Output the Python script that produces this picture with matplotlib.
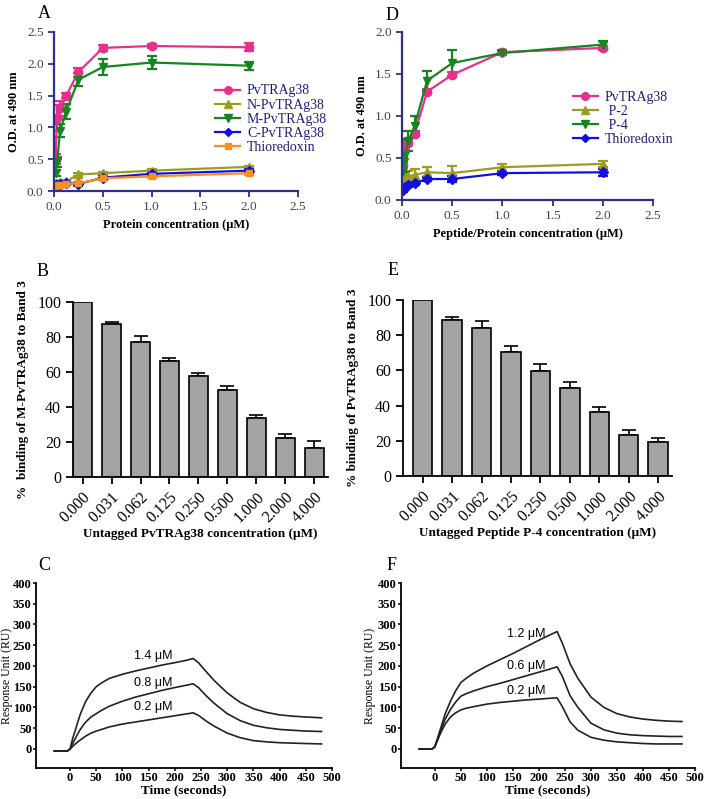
import numpy as np
import matplotlib
matplotlib.use("Agg")
import matplotlib.pyplot as plt
from matplotlib.lines import Line2D
from matplotlib.ticker import FormatStrFormatter

plt.rcParams['font.family'] = ['Liberation Serif', 'DejaVu Serif']

# ---------------- data ----------------
# Panel A: ELISA binding of PvTRAg38 fragments
conc_a = [0.0156, 0.031, 0.0625, 0.125, 0.25, 0.5, 1.0, 2.0]
pv_a = [0.50, 1.15, 1.30, 1.50, 1.87, 2.25, 2.28, 2.26]
pv_a_err = [0.08, 0.20, 0.12, 0.04, 0.07, 0.05, 0.03, 0.06]
n_a = [0.12, 0.13, 0.14, 0.15, 0.26, 0.28, 0.32, 0.38]
n_a_err = [0.02, 0.02, 0.02, 0.02, 0.02, 0.02, 0.02, 0.02]
m_a = [0.28, 0.45, 0.95, 1.25, 1.75, 1.95, 2.02, 1.97]
m_a_err = [0.05, 0.08, 0.10, 0.12, 0.10, 0.12, 0.10, 0.06]
c_a = [0.09, 0.10, 0.11, 0.12, 0.11, 0.21, 0.27, 0.32]
c_a_err = [0.02, 0.02, 0.02, 0.02, 0.03, 0.02, 0.03, 0.03]
thio_a = [0.08, 0.09, 0.10, 0.11, 0.12, 0.20, 0.23, 0.28]
thio_a_err = [0.02, 0.02, 0.02, 0.02, 0.02, 0.02, 0.03, 0.03]

# Panel D: peptides
conc_d = [0.0078, 0.0156, 0.031, 0.0625, 0.125, 0.25, 0.5, 1.0, 2.0]
pv_d = [0.42, 0.60, 0.65, 0.68, 0.79, 1.29, 1.49, 1.76, 1.81]
pv_d_err = [0.03, 0.03, 0.04, 0.03, 0.03, 0.03, 0.03, 0.02, 0.02]
p2_d = [0.22, 0.25, 0.27, 0.28, 0.30, 0.33, 0.32, 0.39, 0.43]
p2_d_err = [0.06, 0.06, 0.06, 0.06, 0.07, 0.06, 0.09, 0.04, 0.04]
p4_d = [0.35, 0.45, 0.53, 0.70, 0.88, 1.42, 1.63, 1.75, 1.85]
p4_d_err = [0.15, 0.12, 0.20, 0.12, 0.12, 0.12, 0.15, 0.02, 0.04]
thio_d = [0.12, 0.14, 0.16, 0.18, 0.20, 0.25, 0.25, 0.32, 0.33]
thio_d_err = [0.02, 0.02, 0.02, 0.02, 0.02, 0.02, 0.04, 0.02, 0.04]

# Panels B/E: competition
comp_labels = ['0.000', '0.031', '0.062', '0.125', '0.250', '0.500', '1.000', '2.000', '4.000']
bind_b = [100, 87.5, 77, 66.5, 58, 50, 34, 22.5, 16.5]
bind_b_err = [0, 1.0, 3.5, 1.5, 1.2, 2.0, 1.7, 2.3, 3.8]
bind_e = [100, 88.5, 84, 70.5, 59.5, 50, 36.5, 23.5, 19.5]
bind_e_err = [0, 2.0, 4.0, 3.5, 4.0, 3.5, 2.5, 2.5, 2.0]

# Panels C/F: SPR sensorgrams
t_c = [-30, -5, 0, 5, 10, 15, 20, 30, 40, 50, 60, 75, 100, 125, 150, 175, 200, 220, 235,
       245, 260, 275, 300, 325, 350, 375, 400, 425, 450, 480]
c_14 = [-5, -5, 0, 25, 45, 66, 85, 115, 135, 150, 159, 170, 180, 188, 195, 202, 208, 213, 218,
        208, 186, 165, 135, 112, 97, 88, 82, 79, 77, 75]
c_08 = [-5, -5, 0, 13, 25, 37, 48, 65, 77, 85, 93, 103, 115, 125, 133, 141, 148, 153, 157,
        148, 128, 110, 85, 68, 57, 51, 47, 45, 43, 42]
c_02 = [-5, -5, 0, 6, 12, 17, 22, 31, 38, 43, 47, 53, 60, 65, 70, 75, 80, 84, 87,
        81, 67, 55, 38, 27, 20, 17, 15, 14, 13, 12]

t_f = [-30, -5, 0, 5, 10, 15, 20, 30, 40, 50, 60, 75, 100, 125, 150, 175, 200, 220, 235,
       245, 260, 275, 300, 325, 350, 375, 400, 425, 450, 475]
f_12 = [0, 0, 5, 25, 45, 65, 85, 115, 140, 160, 170, 183, 200, 215, 230, 246, 262, 274, 283,
        255, 205, 170, 125, 100, 85, 77, 72, 69, 67, 66]
f_06 = [0, 0, 5, 22, 40, 56, 72, 95, 113, 127, 133, 140, 150, 158, 167, 176, 185, 192, 198,
        175, 128, 100, 62, 46, 38, 34, 32, 31, 30, 30]
f_02 = [0, 0, 5, 20, 35, 48, 60, 77, 87, 94, 98, 102, 108, 112, 115, 118, 120, 122, 123,
        102, 65, 45, 28, 21, 17, 15, 13, 12, 12, 12]

# ---------------- style ----------------
navy = '#2E2E8C'
label_blue = '#1E1E78'
pink = '#E8308A'
olive = '#9C9C1E'
green = '#17851F'
blue = '#1010E6'
orange = '#F7901E'
bar_gray = '#A3A3A6'

fig = plt.figure(figsize=(7.13, 7.99), dpi=100)


def ax_at(l, t, r, b):
    W, H = 713, 799
    return fig.add_axes([l / W, 1 - b / H, (r - l) / W, (b - t) / H])


def style_od(ax):
    for s in ['top', 'right']:
        ax.spines[s].set_visible(False)
    for s in ['left', 'bottom']:
        ax.spines[s].set_color(navy)
        ax.spines[s].set_linewidth(1.6)
    ax.tick_params(colors=navy, labelcolor='#444444', labelsize=9.5, width=1.3, length=4)
    ax.xaxis.set_major_formatter(FormatStrFormatter('%.1f'))
    ax.yaxis.set_major_formatter(FormatStrFormatter('%.1f'))


def od_series(ax, x, y, e, color, marker, label, ms=6):
    ax.errorbar(x, y, yerr=e, color=color, marker=marker, ms=ms, lw=1.6,
                capsize=3.5, capthick=1.6, elinewidth=1.6)
    return Line2D([], [], color=color, marker=marker, ms=ms - 0.5, lw=1.6, label=label)


def od_legend(ax, handles, anchor):
    leg = ax.legend(handles=handles, loc='upper left', bbox_to_anchor=anchor, frameon=False,
                    fontsize=10, handlelength=1.8, handletextpad=0.5, labelspacing=0.08,
                    borderaxespad=0, borderpad=0)
    for t in leg.get_texts():
        t.set_color(label_blue)


# Panel A
axA = ax_at(54, 32, 298, 191)
hA = [od_series(axA, conc_a, pv_a, pv_a_err, pink, 'o', 'PvTRAg38'),
      od_series(axA, conc_a, n_a, n_a_err, olive, '^', 'N-PvTRAg38'),
      od_series(axA, conc_a, m_a, m_a_err, green, 'v', 'M-PvTRAg38'),
      od_series(axA, conc_a, c_a, c_a_err, blue, 'D', 'C-PvTRAg38', ms=5),
      od_series(axA, conc_a, thio_a, thio_a_err, orange, 's', 'Thioredoxin', ms=5)]
axA.set_xlim(0, 2.5)
axA.set_ylim(0, 2.5)
axA.set_xticks(np.arange(0, 2.51, 0.5))
axA.set_yticks(np.arange(0, 2.51, 0.5))
style_od(axA)
axA.set_xlabel('Protein concentration (μM)', fontsize=9, fontweight='bold', labelpad=4)
axA.set_ylabel('O.D. at 490 nm', fontsize=9, fontweight='bold', labelpad=5)
od_legend(axA, hA, (0.66, 0.67))

# Panel D
axD = ax_at(402, 32, 653, 200)
hD = [od_series(axD, conc_d, pv_d, pv_d_err, pink, 'o', 'PvTRAg38'),
      od_series(axD, conc_d, p2_d, p2_d_err, olive, '^', ' P-2'),
      od_series(axD, conc_d, p4_d, p4_d_err, green, 'v', ' P-4'),
      od_series(axD, conc_d, thio_d, thio_d_err, blue, 'D', 'Thioredoxin', ms=5)]
axD.set_xlim(0, 2.5)
axD.set_ylim(0, 2.0)
axD.set_xticks(np.arange(0, 2.51, 0.5))
axD.set_yticks(np.arange(0, 2.01, 0.5))
style_od(axD)
axD.set_xlabel('Peptide/Protein concentration (μM)', fontsize=9, fontweight='bold', labelpad=4)
axD.set_ylabel('O.D. at 490 nm', fontsize=9, fontweight='bold', labelpad=5)
od_legend(axD, hD, (0.68, 0.65))


def bar_panel(ax, vals, errs, xlabel, ylabel, left):
    x = np.arange(len(vals))
    ax.bar(x, vals, width=0.66, color=bar_gray, edgecolor='black', linewidth=1.2, zorder=2)
    ax.errorbar(x, vals, yerr=[np.zeros(len(errs)), errs], fmt='none', ecolor='black',
                elinewidth=1.2, capsize=5, capthick=1.2, zorder=1)
    ax.set_xlim(left, 8.47)
    ax.set_ylim(0, 100)
    ax.set_yticks(np.arange(0, 101, 20))
    ax.set_xticks(x)
    ax.set_xticklabels(comp_labels, rotation=45, ha='right', rotation_mode='anchor', fontsize=10.5)
    for s in ['top', 'right']:
        ax.spines[s].set_visible(False)
    for s in ['left', 'bottom']:
        ax.spines[s].set_linewidth(1.3)
    ax.tick_params(labelsize=11.5, width=1.3, length=5)
    ax.set_xlabel(xlabel, fontsize=9.5, fontweight='bold', labelpad=2)
    ax.set_ylabel(ylabel, fontsize=9.5, fontweight='bold', labelpad=6)


axB = ax_at(73, 302, 328, 477)
bar_panel(axB, bind_b, bind_b_err, 'Untagged PvTRAg38 concentration (μM)',
          '%  binding of M-PvTRAg38 to Band 3', -0.33)
axE = ax_at(403, 300, 672, 476)
bar_panel(axE, bind_e, bind_e_err, 'Untagged Peptide P-4 concentration (μM)',
          '% binding of PvTRAg38 to Band 3', -0.67)


def spr_panel(ax, t, curves, labels, label_pos, ylab_x):
    for y in curves:
        ax.plot(t, y, color='#222222', lw=1.2)
    for lab, (tx, ty) in zip(labels, label_pos):
        ax.text(tx, ty, lab, fontsize=9, family=['Liberation Sans', 'DejaVu Sans'],
                ha='center', va='center')
    ax.set_xlim(-65, 500)
    ax.set_ylim(-46, 400)
    ax.set_xticks(np.arange(0, 501, 50))
    ax.set_yticks(np.arange(0, 401, 50))
    for s in ['top', 'right']:
        ax.spines[s].set_visible(False)
    for s in ['left', 'bottom']:
        ax.spines[s].set_linewidth(1.3)
    ax.tick_params(labelsize=9, width=1.1, length=2, pad=1.2)
    for lbl in ax.get_xticklabels() + ax.get_yticklabels():
        lbl.set_fontweight('bold')
    ax.set_xlabel('Time (seconds)', fontsize=9.5, fontweight='bold', labelpad=0)
    ax.set_ylabel('Response Unit (RU)', fontsize=8.5, va='center')
    ax.yaxis.set_label_coords(ylab_x, 0.5)


axC = ax_at(36, 583, 332, 768)
spr_panel(axC, t_c, [c_14, c_08, c_02], ['1.4 μM', '0.8 μM', '0.2 μM'],
          [(158, 224), (158, 160), (158, 102)], -0.097)
axF = ax_at(401, 583, 695, 768)
spr_panel(axF, t_f, [f_12, f_06, f_02], ['1.2 μM', '0.6 μM', '0.2 μM'],
          [(176, 276), (176, 201), (176, 140)], -0.105)

# panel letters
for letter, (px, py) in zip('ADBECF', [(38, 5), (386, 7), (37, 263), (388, 262), (38, 557), (387, 557)]):
    fig.text(px / 713, 1 - py / 799, letter, fontsize=13, va='top', ha='left')

fig.savefig('out.png', dpi=100)
